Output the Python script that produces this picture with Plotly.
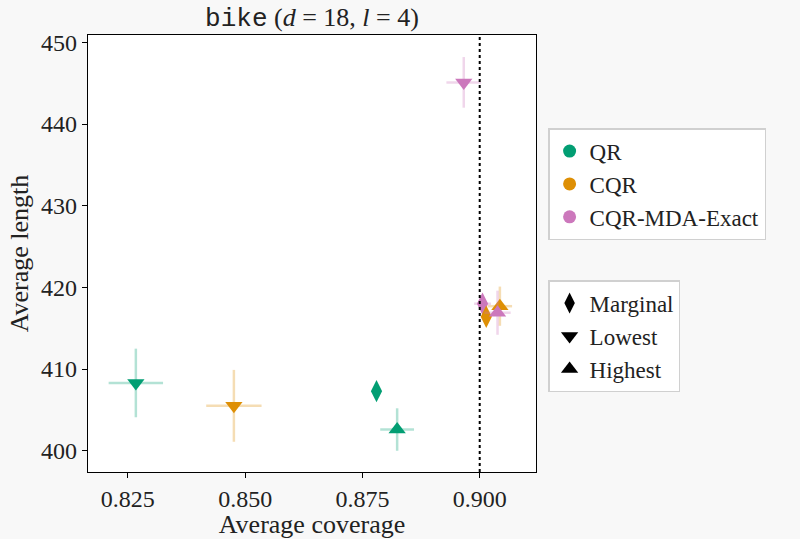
import plotly.graph_objects as go

# methods and colours
methods = ["QR", "CQR", "CQR-MDA-Exact"]
colors = ["#029E73", "#DE8F05", "#CC78BC"]
err_colors = ["rgba(2,158,115,0.3)", "rgba(222,143,5,0.3)", "rgba(204,120,188,0.3)"]

groups = ["Marginal", "Lowest", "Highest"]
symbols = ["diamond-tall", "triangle-down", "triangle-up"]

# coverage / length per method, order: marginal, lowest, highest
cov = {
    "QR": [0.8780, 0.8267, 0.8824],
    "CQR": [0.9014, 0.8476, 0.9043],
    "CQR-MDA-Exact": [0.9006, 0.8966, 0.9038],
}
cov_err = {
    "QR": [0.0, 0.0058, 0.0036],
    "CQR": [0.0, 0.0059, 0.0026],
    "CQR-MDA-Exact": [0.0018, 0.0037, 0.0028],
}
length = {
    "QR": [407.3, 408.3, 402.6],
    "CQR": [416.4, 405.5, 417.7],
    "CQR-MDA-Exact": [418.0, 445.1, 416.9],
}
length_err = {
    "QR": [0.0, 4.2, 2.6],
    "CQR": [0.0, 4.4, 2.4],
    "CQR-MDA-Exact": [0.0, 3.1, 2.7],
}

xticks = [0.825, 0.85, 0.875, 0.9]
yticks = [400, 410, 420, 430, 440, 450]
target = 0.9

# drawing order (method index, group index)
order = [(0, 0), (0, 1), (0, 2), (2, 0), (1, 0), (1, 1), (1, 2), (2, 1), (2, 2)]

fig = go.Figure()

for mi, gi in order:
    m = methods[mi]
    fig.add_trace(go.Scatter(
        x=[cov[m][gi]], y=[length[m][gi]],
        mode="markers",
        marker=dict(symbol=symbols[gi], color=colors[mi], size=15 if gi else 16,
                    line=dict(width=0)),
        error_x=dict(type="data", array=[cov_err[m][gi]], color=err_colors[mi],
                     thickness=2.5, width=0, visible=cov_err[m][gi] > 0),
        error_y=dict(type="data", array=[length_err[m][gi]], color=err_colors[mi],
                     thickness=2.5, width=0, visible=length_err[m][gi] > 0),
        showlegend=False, hoverinfo="skip",
    ))

# legend entries
for m, c in zip(methods, colors):
    fig.add_trace(go.Scatter(x=[None], y=[None], mode="markers", name=m,
                             marker=dict(symbol="circle", color=c, size=13),
                             legend="legend"))
for g, s in zip(groups, symbols):
    fig.add_trace(go.Scatter(x=[None], y=[None], mode="markers", name=g,
                             marker=dict(symbol=s, color="black", size=15),
                             legend="legend2"))

fig.add_shape(type="line", x0=target, x1=target, y0=0, y1=1, yref="paper",
              line=dict(color="black", width=2, dash="dot"))

serif = "Liberation Serif, DejaVu Serif, serif"

fig.update_layout(
    width=800, height=539,
    margin=dict(l=88, r=264, t=35, b=67),
    paper_bgcolor="#f8f8f8",
    plot_bgcolor="white",
    font=dict(family=serif, size=24, color="#222"),
    title=dict(
        text="<span style='font-family:Liberation Mono, DejaVu Sans Mono, monospace'>bike</span>"
             " (<i>d</i> = 18, <i>l</i> = 4)",
        x=0.5, xref="paper", xanchor="center", y=0.985, yanchor="top",
        font=dict(size=26),
    ),
    xaxis=dict(
        range=[0.8165, 0.912], tickvals=xticks, tickformat=".3f",
        showgrid=False, zeroline=False, showline=True, linecolor="black",
        linewidth=1.2, mirror=True, ticks="outside", ticklen=5, tickcolor="black",
        tickfont=dict(size=24), automargin=False,
        title=dict(text="Average coverage", standoff=4, font=dict(size=26)),
    ),
    yaxis=dict(
        range=[397.4, 450.9], tickvals=yticks,
        showgrid=False, zeroline=False, showline=True, linecolor="black",
        linewidth=1.2, mirror=True, ticks="outside", ticklen=5, tickcolor="black",
        tickfont=dict(size=24), automargin=False,
        title=dict(text="Average length", standoff=4, font=dict(size=26)),
    ),
    legend=dict(
        x=1.027, y=0.787, xanchor="left", yanchor="top",
        bgcolor="white", bordercolor="#d0d0d0", borderwidth=1.5,
        font=dict(size=23), itemsizing="trace", tracegroupgap=0,
    ),
    legend2=dict(
        x=1.027, y=0.439, xanchor="left", yanchor="top",
        bgcolor="white", bordercolor="#d0d0d0", borderwidth=1.5,
        font=dict(size=23), itemsizing="trace", tracegroupgap=0,
    ),
)

fig.write_html("out.html", config={"displayModeBar": False},
               post_script="document.body.style.margin='0';")
